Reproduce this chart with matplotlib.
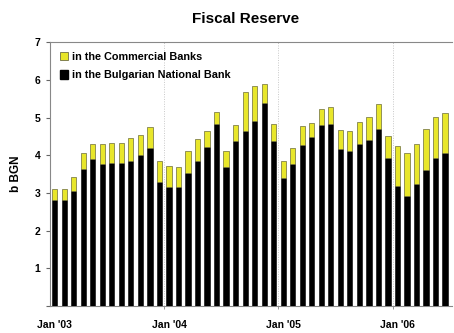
import numpy as np
import matplotlib
matplotlib.use('Agg')
import matplotlib.pyplot as plt
from matplotlib.patches import Patch

plt.rcParams.update({
    'font.family': ['Liberation Sans', 'DejaVu Sans'],
    'font.weight': 'bold',
    'font.size': 7,
})

# monthly fiscal reserve, b BGN, Jan 2003 .. Jun 2006
bnb = [2.81, 2.81, 3.05, 3.65, 3.90, 3.78, 3.80, 3.80, 3.85, 4.00, 4.20, 3.29,
       3.15, 3.15, 3.52, 3.85, 4.23, 4.82, 3.68, 4.38, 4.65, 4.91, 5.40, 4.38,
       3.39, 3.77, 4.27, 4.49, 4.80, 4.82, 4.16, 4.12, 4.29, 4.40, 4.69, 3.93,
       3.18, 2.93, 3.23, 3.61, 3.92, 4.05]
total = [3.10, 3.11, 3.43, 4.05, 4.31, 4.31, 4.33, 4.33, 4.46, 4.54, 4.75, 3.85,
         3.71, 3.69, 4.12, 4.43, 4.64, 5.15, 4.11, 4.80, 5.67, 5.84, 5.89, 4.82,
         3.85, 4.20, 4.78, 4.87, 5.22, 5.29, 4.67, 4.65, 4.88, 5.01, 5.36, 4.52,
         4.25, 4.05, 4.30, 4.69, 5.01, 5.13]
banks = [t - b for t, b in zip(total, bnb)]

tick_labels = ["Jan '03", "Jan '04", "Jan '05", "Jan '06"]

x = np.arange(len(bnb))
yellow = '#e8e62a'

fig = plt.figure(figsize=(4.54, 3.33), dpi=100)
ax = fig.add_axes([0.110, 0.081, 0.885, 0.792])

ax.bar(x, bnb, width=0.55, color='black', edgecolor='black', linewidth=0.4, zorder=3)
ax.bar(x, banks, bottom=bnb, width=0.55, color=yellow, edgecolor='#6b6b3a',
       linewidth=0.5, zorder=3)

# year boundaries
for xb in (11.5, 23.5, 35.5):
    ax.axvline(xb, color='#c8c8c8', linestyle=(0, (1, 1.5)), linewidth=0.7, zorder=1)

ax.set_xlim(-0.5, 41.7)
ax.set_ylim(0, 7)
ax.set_yticks(range(0, 8))
ax.set_yticklabels([''] + [str(v) for v in range(1, 8)])
ax.set_xticks([0, 12, 24, 36])
ax.set_xticklabels(tick_labels)
ax.set_xticks([11.5, 23.5, 35.5], minor=True)
ax.tick_params(axis='x', which='major', length=0, pad=10, labelsize=7.5)
ax.tick_params(axis='x', which='minor', length=2.5, color='#888888', direction='out')
ax.tick_params(axis='y', length=3, color='#666666', direction='out', pad=4, labelsize=7.5)

for side in ('left', 'bottom', 'top'):
    ax.spines[side].set_color('#888888')
    ax.spines[side].set_linewidth(0.8)
ax.spines['right'].set_visible(False)

ax.set_ylabel('b BGN', fontsize=8.5, fontweight='bold', labelpad=9)
fig.text(0.54, 0.943, 'Fiscal Reserve', ha='center', va='center',
         fontsize=11, fontweight='bold')

handles = [Patch(facecolor=yellow, edgecolor='#555533', linewidth=0.5),
           Patch(facecolor='black', edgecolor='black')]
ax.legend(handles, ['in the Commercial Banks', 'in the Bulgarian National Bank'],
          loc='upper left', bbox_to_anchor=(0.0, 1.0), frameon=False,
          handlelength=0.8, handleheight=0.8, handletextpad=0.3,
          labelspacing=0.75, borderaxespad=0.5, fontsize=7.8)

fig.savefig('out.png', dpi=100)
